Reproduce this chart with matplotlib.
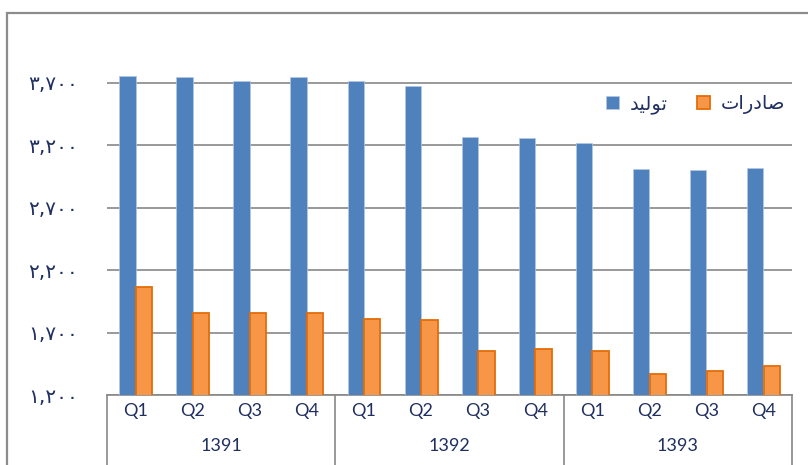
import matplotlib
matplotlib.use('Agg')
import matplotlib.pyplot as plt
from matplotlib.patches import Rectangle
from matplotlib.ticker import FuncFormatter
import numpy as np

# ── data ─────────────────────────────────────────────────────────────
years = ['1391', '1392', '1393']
quarters = ['Q1', 'Q2', 'Q3', 'Q4']
production = [3756, 3745, 3713, 3745,
              3711, 3671, 3264, 3259,
              3213, 3008, 3002, 3013]
exports = [2066, 1853, 1853, 1853,
           1807, 1804, 1550, 1572,
           1553, 1372, 1390, 1433]
yticks = [1200, 1700, 2200, 2700, 3200, 3700]

# pre-shaped RTL labels (visual order, presentation forms)
LBL_PROD = '\uFEAA\uFEF4\uFEDF\uFEEE\uFE97'          # تولید
LBL_EXP = '\uFE95\uFE8D\uFEAD\uFEA9\uFE8E\uFEBB'      # صادرات

C_BLUE = '#4F81BD'
C_ORANGE = '#F79646'
C_ORANGE_EDGE = '#E46C0A'
C_GRID = '#878787'
C_TEXT = '#1F2F5F'

W, H = 808, 465
fig = plt.figure(figsize=(W / 100, H / 100), dpi=100)
fig.patch.set_facecolor('white')

# outer chart border (runs off the right and bottom edges)
fig.add_artist(Rectangle((7 / W, -0.1), 1.2, 1 - 13 / H + 0.1,
                         transform=fig.transFigure, fill=False,
                         edgecolor='#8C8C8C', linewidth=1.6))

ax = fig.add_axes([107 / W, 1 - 395 / H, (792 - 107) / W, (395 - 20) / H])

n = len(production)
x = np.arange(n)
bw = 0.286
ax.bar(x - bw / 2, production, width=bw, color=C_BLUE,
       edgecolor='#B3C8E3', linewidth=0.5, zorder=3)
ax.bar(x + bw / 2 + 0.005, exports, width=bw, color=C_ORANGE,
       edgecolor=C_ORANGE_EDGE, linewidth=1.3, zorder=3)

ax.set_xlim(-0.5, n - 0.5)
ax.set_ylim(1200, 4200)
ax.set_yticks(yticks)

fa = str.maketrans('0123456789', '۰۱۲۳۴۵۶۷۸۹')
ax.yaxis.set_major_formatter(FuncFormatter(lambda v, p: f'{int(v):,}'.translate(fa)))
ax.tick_params(axis='y', length=0, pad=21, labelsize=14.5, labelcolor=C_TEXT)
ax.yaxis.grid(True, color=C_GRID, linewidth=1.2, zorder=0)
ax.set_axisbelow(True)

for s in ['left', 'top', 'right']:
    ax.spines[s].set_visible(False)
ax.spines['bottom'].set_color(C_GRID)
ax.spines['bottom'].set_linewidth(1.2)

ax.set_xticks(x)
ax.set_xticklabels(quarters * len(years), fontfamily='Lato',
                   fontsize=13, color=C_TEXT)
ax.tick_params(axis='x', length=0, pad=6)

tr = ax.get_xaxis_transform()
for i, yr in enumerate(years):
    ax.text(i * 4 + 1.5, -0.135, yr, transform=tr, ha='center', va='center',
            fontfamily='Lato', fontsize=13, color=C_TEXT)
for i in range(len(years) + 1):
    ax.plot([i * 4 - 0.5] * 2, [0, -0.3], transform=tr, color=C_GRID,
            linewidth=1.2, clip_on=False)

# legend: [blue] تولید   [orange] صادرات
h1 = Rectangle((0, 0), 1, 1, facecolor=C_BLUE, edgecolor='#B3C8E3', linewidth=0.5)
h2 = Rectangle((0, 0), 1, 1, facecolor=C_ORANGE, edgecolor=C_ORANGE_EDGE, linewidth=1.3)
leg = fig.legend([h1, h2], [LBL_PROD, LBL_EXP], ncol=2, frameon=False,
                 loc='center left', bbox_to_anchor=(606 / W, 1 - 104 / H),
                 prop={'family': 'DejaVu Sans', 'size': 14},
                 handlelength=0.68, handleheight=0.68, handletextpad=0.55,
                 columnspacing=1.5, borderaxespad=0, borderpad=0)
for t in leg.get_texts():
    t.set_color(C_TEXT)

plt.savefig('out.png', dpi=100, facecolor=fig.get_facecolor())
